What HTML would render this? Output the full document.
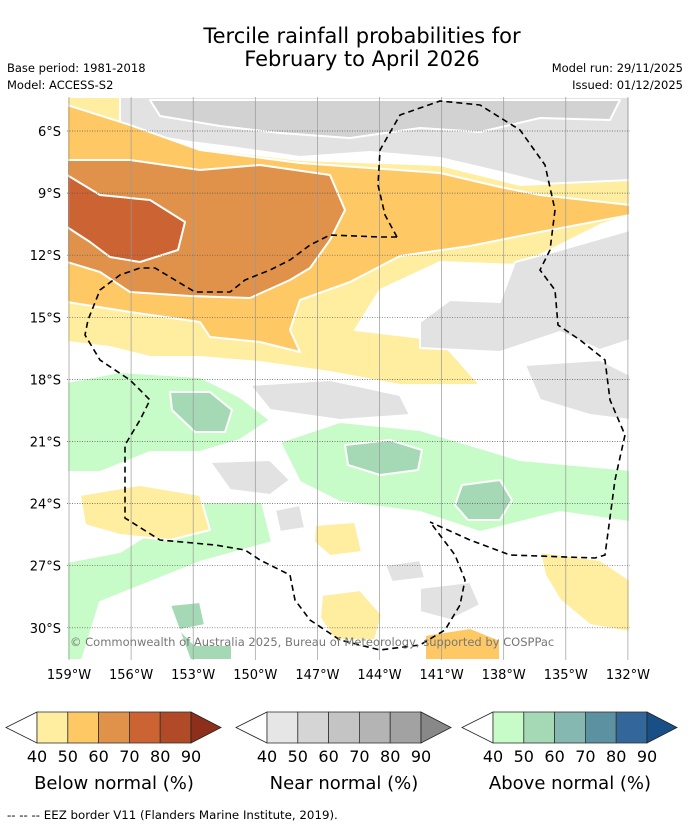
<!DOCTYPE html>
<html><head><meta charset="utf-8"><style>
body{margin:0;background:#fff;width:690px;height:827px;overflow:hidden;font-family:"DejaVu Sans","Liberation Sans",sans-serif;}
svg{position:absolute;left:0;top:0}
</style></head><body>
<svg id="s" width="690" height="827">
<text x="362" y="43" font-size="21" text-anchor="middle">Tercile rainfall probabilities for</text>
<text x="362" y="66" font-size="21" text-anchor="middle">February to April 2026</text>
<text x="7" y="72" font-size="11.5">Base period: 1981-2018</text>
<text x="7" y="89" font-size="11.5">Model: ACCESS-S2</text>
<text x="683" y="72" font-size="11.5" text-anchor="end">Model run: 29/11/2025</text>
<text x="683" y="89" font-size="11.5" text-anchor="end">Issued: 01/12/2025</text>
<defs><clipPath id="mc"><rect x="67" y="97" width="563" height="563"/></clipPath></defs>
<g clip-path="url(#mc)" id="map">
<rect x="67" y="97" width="563" height="563" fill="#fff"/>
<g stroke="#fff" stroke-width="2" stroke-linejoin="round">
<polygon fill="#e2e2e2" points="110,97 630,97 630,182 560,187 500,172 440,158 370,152 300,157 230,147 190,142 130,132 110,122"/>
<polygon fill="#d2d2d2" points="150,100 620,100 610,120 540,118 480,132 420,128 350,138 280,133 220,126 160,116"/>
<polygon fill="#ffeda0" points="67,97 120,97 120,125 200,148 300,160 440,165 520,185 630,180 630,215 600,225 560,245 520,265 440,262 380,290 355,330 440,340 480,385 400,385 330,372 260,362 200,357 150,357 110,347 67,342"/>
<polygon fill="#fec965" points="67,105 130,125 200,150 300,163 440,173 500,187 540,195 630,205 630,215 540,232 470,246 400,256 350,282 300,300 290,330 300,352 260,342 210,337 200,322 130,312 67,302"/>
<polygon fill="#e0924a" points="67,160 130,160 200,170 260,165 330,175 345,210 330,240 310,268 290,280 250,298 190,296 130,292 100,272 67,262"/>
<polygon fill="#cb6332" points="67,175 100,195 150,200 185,222 178,250 140,262 110,257 90,242 67,227"/>
<polygon fill="#e2e2e2" points="420,322 450,300 500,302 515,262 560,250 630,230 630,340 600,350 560,332 500,352 420,348"/>
<polygon fill="#e2e2e2" points="250,385 330,380 400,395 410,415 340,420 270,410"/>
<polygon fill="#e2e2e2" points="525,365 600,360 630,375 630,420 590,415 540,400"/>
<polygon fill="#c7fbc7" points="67,382 120,372 200,377 240,397 270,420 240,440 200,452 150,452 100,472 67,472"/>
<polygon fill="#a5d9b5" points="170,392 210,392 232,410 225,432 195,432 172,410"/>
<polygon fill="#c7fbc7" points="280,442 340,422 420,430 520,460 630,470 630,522 560,512 480,532 420,512 340,502 300,482"/>
<polygon fill="#a5d9b5" points="345,445 390,440 422,450 418,470 380,475 348,465"/>
<polygon fill="#a5d9b5" points="462,485 500,480 512,500 500,520 468,520 455,505"/>
<polygon fill="#e2e2e2" points="210,462 270,460 290,480 270,495 230,490"/>
<polygon fill="#e2e2e2" points="420,588 470,582 480,605 450,620 420,612"/>
<polygon fill="#e2e2e2" points="275,510 300,505 305,528 280,532"/>
<polygon fill="#e2e2e2" points="385,565 420,560 425,578 392,582"/>
<polygon fill="#c7fbc7" points="200,502 262,502 272,542 200,562 150,582 100,602 82,660 67,660 67,562 120,552"/>
<polygon fill="#a5d9b5" points="170,605 200,602 205,625 180,630 195,645 232,645 232,660 190,660"/>
<polygon fill="#ffeda0" points="80,495 140,485 200,495 210,530 170,540 120,535 85,525"/>
<polygon fill="#ffeda0" points="322,595 360,590 382,615 375,640 335,640 320,618"/>
<polygon fill="#ffeda0" points="540,552 600,560 630,580 630,632 590,625 560,600 545,575"/>
<polygon fill="#fec965" points="425,635 470,628 500,640 500,660 425,660"/>
<polygon fill="#ffeda0" points="315,525 355,522 362,552 330,556 314,542"/>
</g>
<g id="vgrid" stroke="#999" stroke-width="0.7"></g>
<g id="grid" stroke="#555" stroke-width="0.7" stroke-dasharray="1,1.5"></g>
<path fill="none" stroke="#000" stroke-width="1.6" stroke-dasharray="6,4" d="M397,237 L385,215 378,185 380,150 400,115 440,101 480,105 520,130 545,165 555,210 550,250 540,270 555,290 558,325 580,340 605,360 610,400 625,435 615,480 605,555 595,558 510,555 470,540 430,522 M397,237 L380,237 330,235 310,245 290,260 270,270 245,280 230,292 195,292 175,280 155,268 140,268 120,275 100,290 88,320 85,335 100,360 130,380 150,400 140,420 125,445 125,480 125,518 160,540 215,545 245,550 260,560 290,575 295,600 310,620 340,640 380,650 420,645 445,630 460,605 465,580 455,555 430,522"/>
<text x="70" y="646" font-size="11.5" fill="#777">© Commonwealth of Australia 2025, Bureau of Meteorology, supported by COSPPac</text>
</g>
<g id="ticks" font-size="13"></g>
<g id="bars"></g>
<text x="7" y="819" font-size="11.8">--  --  -- EEZ border V11 (Flanders Marine Institute, 2019).</text>
</svg>
<script>
const lonTicks=[159,156,153,150,147,144,141,138,135,132];
const latTicks=[6,9,12,15,18,21,24,27,30];
const barLabels=[40,50,60,70,80,90];
const belowColors=["#ffeda0","#fec965","#e0924a","#cb6332","#b04a27","#8e2f1c"];
const nearColors=["#e6e6e6","#d5d5d5","#c4c4c4","#b4b4b4","#a2a2a2","#888888"];
const aboveColors=["#c7fbc7","#a5d9b5","#85b8b0","#5b91a0","#336699","#184f86"];
const barTitles=["Below normal (%)","Near normal (%)","Above normal (%)"];
const NS="http://www.w3.org/2000/svg";
const xs=w=>69+(159-w)*20.7, ys=s=>131+(s-6)*20.7;
function mk(t,a,p){const e=document.createElementNS(NS,t);for(const k in a)e.setAttribute(k,a[k]);p.appendChild(e);return e;}
const grid=document.getElementById('grid'),vgrid=document.getElementById('vgrid'),ticks=document.getElementById('ticks');
lonTicks.forEach(w=>{
 const l=mk('line',{x1:xs(w),x2:xs(w),y1:97,y2:660},vgrid);
 
 
 const t=mk('text',{x:xs(w),y:679,'text-anchor':'middle'},ticks);t.textContent=w+'°W';
 
 
});
latTicks.forEach(s=>{
 const l=mk('line',{x1:67,x2:630,y1:ys(s),y2:ys(s)},grid);
 
 
 const t=mk('text',{x:61,y:ys(s)+5,'text-anchor':'end'},ticks);t.textContent=s+'°S';
 
 
});
const bars=document.getElementById('bars');
[[37,belowColors],[267,nearColors],[493,aboveColors]].forEach(([x0,cols],i)=>{
 const g=mk('g',{},bars);
 
 
 const bw=30.8,y0=712,h=31;
 mk('polygon',{points:`${x0},${y0} ${x0-31},${y0+h/2} ${x0},${y0+h}`,fill:'#fff',stroke:'#222','stroke-width':0.8},g);
 for(let k=0;k<5;k++){const r=mk('rect',{x:x0+k*bw,y:y0,width:bw,height:h,fill:cols[k],stroke:'#333','stroke-width':0.8},g);
  }
 const xe=x0+5*bw;
 mk('polygon',{points:`${xe},${y0} ${xe+30},${y0+h/2} ${xe},${y0+h}`,fill:cols[5],stroke:'#222','stroke-width':0.8},g);
 barLabels.forEach((v,k)=>{const t=mk('text',{x:x0+k*bw,y:762,'font-size':16,'text-anchor':'middle'},g);t.textContent=v;
  });
 const tt=mk('text',{x:x0+2.5*bw,y:789,'font-size':18,'text-anchor':'middle'},g);tt.textContent=barTitles[i];
 
});
</script>
</body></html>
